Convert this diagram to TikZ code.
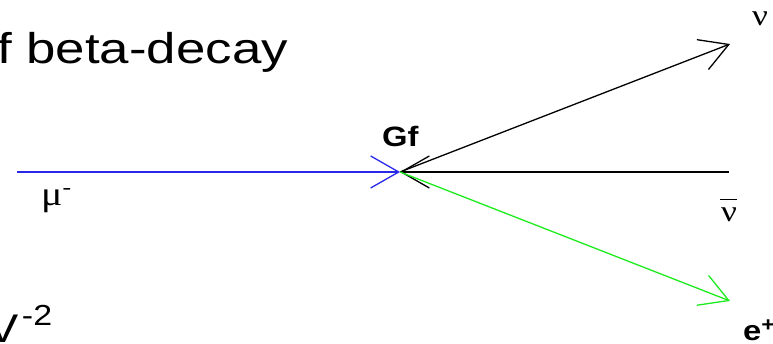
\documentclass[tikz,border=0pt]{standalone}
\usepackage{fontspec}
\setmainfont{Liberation Sans}
\newfontfamily\grk{Liberation Serif}
\usepackage{xcolor}
\usetikzlibrary{positioning, arrows.meta}
\definecolor{mublue}{RGB}{40,40,230}
\definecolor{posgreen}{RGB}{30,235,30}

\begin{document}
\begin{tikzpicture}[
    x=1pt, y=1pt,
    leg/.style={line width=1.3pt, -{Straight Barb[length=28pt, width=32pt, line width=1.3pt]}},
    lbl/.style={inner sep=0pt, xscale=1.17},
    greek/.style={lbl, font=\grk\fontsize{30}{30}\selectfont},
    heavy/.style={lbl, font=\bfseries\fontsize{28}{28}\selectfont}
]
\useasboundingbox (0,0) rectangle (773,344);

% vertex and line ends
\coordinate (vtx) at (400,172);
\coordinate (mustart) at (17,172);
\coordinate (nuend) at (730,300);
\coordinate (nubarend) at (729,172);
\coordinate (eend) at (730,43);

% texts
\node[lbl, xscale=1.05, anchor=base west, font=\fontsize{43}{43}\selectfont] (title) at (-3,280) {f beta-decay};
\node[lbl, anchor=base west, font=\fontsize{40}{40}\selectfont] (units) at (-13,1)
    {V\hspace{3pt}\raisebox{17pt}{\fontsize{29}{29}\selectfont -2}};
\node[heavy, anchor=base west] (gf) at (382,197) {Gf};
\node[greek, anchor=base west, font=\grk\fontsize{34}{34}\selectfont] (mu) at (41,138)
    {μ\raisebox{11pt}{\fontsize{22}{22}\selectfont -}};
\node[greek] (nu) at (760,325) {ν};
\node[greek, anchor=base west] (nubar) at (721,122) {ν\llap{\rule[22pt]{14.5pt}{1.4pt}}};
\node[heavy, anchor=base west] (pos) at (743,3) {e\raisebox{9pt}{\fontsize{20}{20}\selectfont +}};

% legs
\draw[leg, mublue] (mustart) -- (vtx);
\draw[leg, black] (nubarend) -- (vtx);
\draw[leg, black] (vtx) -- (nuend);
\draw[leg, posgreen] (vtx) -- (eend);
\end{tikzpicture}
\end{document}
